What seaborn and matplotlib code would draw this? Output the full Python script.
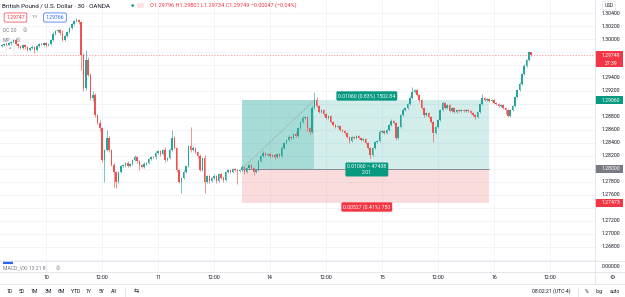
import matplotlib
matplotlib.use("Agg")
import matplotlib.pyplot as plt
from matplotlib.patches import Rectangle
from matplotlib.lines import Line2D
import seaborn as sns
import pandas as pd

# GBPUSD 30 min candles
first_open = 1.29892
closes = [
    1.29907, 1.29922, 1.29892, 1.29938, 1.29953, 1.29984, 1.29922, 1.29892, 1.29861, 1.29907,
    1.29876, 1.29830, 1.29861, 1.29876, 1.29830, 1.29892, 1.29922, 1.29915, 1.29938, 1.29907,
    1.29922, 1.29984, 1.30076, 1.30123, 1.30138, 1.30092, 1.29984, 1.30046, 1.30107, 1.30169,
    1.30230, 1.30277, 1.30292, 1.30261, 1.29753, 1.29245, 1.29676, 1.29445, 1.29091, 1.29137,
    1.28829, 1.28706, 1.28629, 1.28136, 1.28290, 1.28475, 1.28290, 1.28059, 1.27951, 1.27797,
    1.27951, 1.28044, 1.28059, 1.28090, 1.28044, 1.28074, 1.28136, 1.28182, 1.28121, 1.28059,
    1.28028, 1.28074, 1.28090, 1.28151, 1.28182, 1.28175, 1.28244, 1.28275, 1.28228, 1.28290,
    1.28136, 1.28167, 1.28290, 1.28475, 1.28321, 1.27982, 1.27797, 1.27859, 1.27951, 1.28044,
    1.28352, 1.28290, 1.28321, 1.28259, 1.28198, 1.27982, 1.28167, 1.27797, 1.27890, 1.27813,
    1.27859, 1.27890, 1.27813, 1.27920, 1.27859, 1.27828, 1.27951, 1.27982, 1.27951, 1.27997,
    1.27982, 1.27967, 1.27982, 1.28028, 1.27951, 1.28013, 1.28059, 1.28013, 1.27951, 1.27982,
    1.28121, 1.28198, 1.28244, 1.28213, 1.28228, 1.28198, 1.28213, 1.28182, 1.28228, 1.28198,
    1.28321, 1.28398, 1.28444, 1.28490, 1.28475, 1.28536, 1.28506, 1.28629, 1.28721, 1.28783,
    1.28798, 1.28629, 1.28567, 1.28937, 1.29060, 1.28968, 1.28875, 1.28906, 1.28844, 1.28783,
    1.28814, 1.28721, 1.28675, 1.28644, 1.28660, 1.28598, 1.28583, 1.28552, 1.28490, 1.28429,
    1.28490, 1.28475, 1.28506, 1.28475, 1.28444, 1.28459, 1.28398, 1.28321, 1.28213, 1.28321,
    1.28413, 1.28429, 1.28567, 1.28583, 1.28552, 1.28598, 1.28675, 1.28737, 1.28706, 1.28475,
    1.28644, 1.28829, 1.28906, 1.28937, 1.28998, 1.29091, 1.29183, 1.29214, 1.29137, 1.29060,
    1.28937, 1.28829, 1.28860, 1.28798, 1.28721, 1.28552, 1.28644, 1.28752, 1.28906, 1.29014,
    1.28937, 1.28983, 1.28891, 1.28937, 1.28875, 1.28906, 1.28891, 1.28906, 1.28891, 1.28906,
    1.28891, 1.28860, 1.28829, 1.28798, 1.28875, 1.28998, 1.29091, 1.29060, 1.29075, 1.29045,
    1.29060, 1.29014, 1.28998, 1.28968, 1.28983, 1.28937, 1.28906, 1.28814, 1.28906, 1.28968,
    1.29106, 1.29214, 1.29306, 1.29460, 1.29584, 1.29676, 1.29796, 1.29749,
]
# wick lengths in pips beyond the body
wick_up = [
    2, 1, 3, 2, 1, 2, 3, 1, 2, 2,  1, 2, 2, 3, 1, 2, 1, 2, 2, 1,
    2, 1, 3, 2, 2, 1, 4, 2, 1, 2,  2, 1, 3, 2, 1, 3, 15, 4, 3, 6,
    3, 2, 4, 2, 2, 12, 3, 2, 3, 2,  2, 1, 2, 2, 3, 1, 2, 3, 2, 1,
    2, 3, 2, 1, 2, 2, 3, 2, 1, 2,  4, 2, 3, 13, 3, 2, 1, 2, 3, 2,
    2, 29, 3, 2, 2, 3, 2, 4, 2, 1,  2, 3, 2, 2, 1, 3, 2, 2, 1, 2,
    2, 1, 2, 3, 2, 1, 2, 2, 1, 2,  2, 2, 3, 1, 2, 2, 1, 2, 2, 1,
    3, 2, 2, 3, 1, 2, 3, 2, 2, 3,  2, 1, 2, 3, 12, 4, 2, 2, 1, 2,
    2, 1, 2, 1, 2, 2, 1, 2, 2, 1,  2, 2, 1, 2, 1, 2, 2, 1, 2, 2,
    2, 1, 3, 2, 1, 2, 2, 3, 2, 1,  2, 2, 3, 2, 2, 3, 8, 2, 2, 1,
    2, 2, 1, 2, 2, 1, 2, 2, 2, 3,  2, 2, 1, 2, 1, 2, 1, 2, 2, 1,
    2, 1, 2, 1, 2, 2, 6, 2, 1, 2,  1, 2, 2, 1, 2, 1, 2, 2, 1, 2,
    2, 2, 3, 2, 3, 2, 2, 0.5,
]
wick_dn = [
    2, 2, 1, 2, 3, 2, 2, 3, 2, 1,  3, 2, 2, 1, 5, 2, 2, 1, 2, 3,
    1, 2, 2, 2, 1, 3, 2, 2, 1, 2,  2, 2, 1, 3, 23, 4, 3, 2, 3, 4,
    3, 2, 4, 3, 34, 2, 3, 2, 23, 9,  2, 2, 1, 3, 2, 2, 1, 2, 3, 8,
    2, 2, 1, 2, 2, 1, 2, 2, 3, 2,  3, 2, 2, 2, 2, 3, 2, 17, 2, 2,
    2, 3, 2, 2, 3, 2, 2, 17, 2, 3,  2, 2, 3, 2, 2, 3, 2, 2, 2, 1,
    2, 20, 2, 2, 3, 2, 2, 2, 4, 2,  2, 2, 1, 2, 2, 2, 2, 3, 2, 2,
    2, 2, 2, 1, 2, 2, 2, 2, 1, 2,  2, 4, 3, 2, 2, 2, 2, 2, 3, 2,
    2, 2, 2, 2, 2, 2, 1, 2, 2, 3,  2, 2, 2, 1, 2, 2, 2, 2, 5, 2,
    2, 2, 2, 2, 2, 2, 2, 2, 2, 3,  2, 2, 2, 2, 2, 2, 2, 2, 2, 3,
    2, 3, 2, 2, 2, 14, 2, 2, 2, 2,  2, 2, 2, 2, 2, 2, 2, 2, 2, 2,
    2, 2, 2, 3, 2, 2, 2, 2, 2, 2,  2, 2, 2, 2, 2, 2, 6, 2, 2, 2,
    2, 2, 2, 2, 2, 2, 2, 1.5,
]

price_ticks = [1.266, 1.268, 1.270, 1.272, 1.274, 1.276, 1.278, 1.280, 1.282, 1.284,
               1.286, 1.288, 1.290, 1.292, 1.294, 1.296, 1.298, 1.300, 1.302, 1.304]
time_labels = ["10", "12:00", "11", "12:00", "14", "12:00", "15", "12:00", "16", "12:00"]
time_label_idx = [19, 43, 67, 91, 115, 139, 163, 187, 211, 235]

last_price = 1.29749
countdown = "27:39"
entry_price = 1.28000
target_price = 1.29060
stop_price = 1.27473
pos_from, pos_hit, pos_to = 103, 134, 209
target_text = "0.01060 (0.83%) 1502.84"
mid_text = "0.01060 ~ 47438\n2.01"
stop_text = "0.00527 (0.41%) 750"

UP, DOWN = "#26a69a", "#ef5350"
TEAL, RED, TXT, GRID, LINE = "#089981", "#f23645", "#131722", "#f0f3fa", "#e0e3eb"
FS = 3.7

sns.set_theme(style="white")
plt.rcParams['font.family'] = ['Roboto', 'DejaVu Sans']

W, H = 625, 297
XR = 595          # right edge of the plot area, px
PANE_B = 261      # bottom of price pane, px
YLO, YHI = 1.26579, 1.30601


def fx(x):
    return x / W


def fy(y):
    return 1 - y / H


fig = plt.figure(figsize=(W / 100, H / 100), dpi=100)
fig.patch.set_facecolor("white")

ax = fig.add_axes([0, fy(PANE_B), XR / W, PANE_B / H])
ax.set_xlim(-0.73, (XR - 1.7) / 2.333)
ax.set_ylim(YLO, YHI)
ax.set_xticks([])
ax.set_yticks([])
sns.despine(ax=ax, left=True, bottom=True)
ax.set_facecolor("white")

df = pd.DataFrame({"close": closes})
df["open"] = [first_open] + closes[:-1]
body_hi = df[["open", "close"]].max(axis=1)
body_lo = df[["open", "close"]].min(axis=1)
df["high"] = body_hi + pd.Series(wick_up) * 1e-4
df["low"] = body_lo - pd.Series(wick_dn) * 1e-4
df["idx"] = range(len(df))
colors = [UP if c >= o else DOWN for o, c in zip(df["open"], df["close"])]

# grid
for p in price_ticks:
    ax.axhline(p, color=GRID, lw=0.6, zorder=0)
for i in time_label_idx:
    ax.axvline(i, color=GRID, lw=0.6, zorder=0)

# long position tool
ax.add_patch(Rectangle((pos_from, entry_price), pos_to - pos_from, target_price - entry_price,
                       fc=UP, alpha=0.2, lw=0, zorder=1))
ax.add_patch(Rectangle((pos_from, entry_price), pos_hit - pos_from, target_price - entry_price,
                       fc=UP, alpha=0.25, lw=0, zorder=1))
ax.add_patch(Rectangle((pos_from, stop_price), pos_to - pos_from, entry_price - stop_price,
                       fc=DOWN, alpha=0.2, lw=0, zorder=1))
ax.hlines(entry_price, pos_from, pos_to, color="#787b86", lw=0.6, zorder=2)
ax.plot([pos_from, pos_hit], [entry_price, target_price], ls=(0, (1.5, 1.5)),
        color="#9598a1", lw=0.5, zorder=2)

# candles
ax.vlines(df["idx"], df["low"], df["high"], colors=colors, lw=0.45, zorder=3)
ax.bar(df["idx"], (body_hi - body_lo).clip(lower=0.00004), bottom=body_lo, width=0.7,
       color=colors, lw=0, zorder=4)

# last price line
ax.axhline(last_price, color=RED, lw=0.5, ls=(0, (2, 2)), alpha=0.6, zorder=2)

box_kw = dict(boxstyle="round,pad=0.35,rounding_size=0.25", ec="none")
mid_x = (pos_from + pos_to) / 2 + 0.5
ax.text(mid_x, 1.29122, target_text, color="white", fontsize=FS, ha="center", va="center",
        bbox=dict(fc=TEAL, **box_kw), zorder=8)
ax.text(mid_x, 1.27989, mid_text, color="white", fontsize=FS, ha="center", va="center",
        linespacing=1.1, bbox=dict(fc=TEAL, **box_kw), zorder=8)
ax.text(mid_x, 1.27411, stop_text, color="white", fontsize=FS, ha="center", va="center",
        bbox=dict(fc=RED, **box_kw), zorder=8)

# right price scale
ytr = ax.get_yaxis_transform()
col_w = W - XR
lab_x = 1 + (col_w / 2 + 1) / XR
tag_h = 8 * (YHI - YLO) / PANE_B
tags = [(last_price, f"{last_price:.5f}", RED, 0.0),
        (last_price, countdown, RED, tag_h),
        (target_price, f"{target_price:.5f}", TEAL, 0.0),
        (entry_price, f"{entry_price:.5f}", "#787b86", 0.0),
        (stop_price, f"{stop_price:.5f}", RED, 0.0)]
for p in price_ticks:
    covered = any(abs(p - (tp - off)) < tag_h * 0.9 for tp, _, _, off in tags)
    if covered or p < YLO + 0.0003:
        continue
    ax.text(lab_x, p, f"{p:.5f}", transform=ytr, fontsize=FS, color=TXT,
            ha="center", va="center", clip_on=False)

for tp, text, fc, off in tags:
    ax.add_patch(Rectangle((1.0, tp - tag_h / 2 - off), (col_w - 2) / XR, tag_h, transform=ytr,
                           fc=fc, ec="none", clip_on=False, zorder=9))
    ax.text(lab_x, tp - off, text, transform=ytr, fontsize=FS, color="white",
            ha="center", va="center", clip_on=False, zorder=10)

# MACD pane
ax2 = fig.add_axes([0, fy(272), XR / W, 11 / H])
ax2.set_xlim(ax.get_xlim())
ax2.set_xticks([])
ax2.set_yticks([])
sns.despine(ax=ax2, left=True, bottom=True)
for i in time_label_idx:
    ax2.axvline(i, color=GRID, lw=0.6, zorder=0)
fig.text(fx(3), fy(267.5), "MACD_VXI 13 21 8", fontsize=FS, color="#787b86", va="center")
fig.text(fx(56), fy(267.5), "◎", fontsize=FS, color="#787b86", va="center")
fig.add_artist(Rectangle((fx(3), fy(263.5)), 10 / W, 3 / H, transform=fig.transFigure,
                         fc="#2962ff", ec="none"))
fig.text(fx(XR + col_w / 2 + 1), fy(267), "0.00000", fontsize=FS, color=TXT,
         ha="center", va="center")

# separators
for y in (PANE_B, 272, 283.5):
    fig.add_artist(Line2D([0, 1], [fy(y), fy(y)], color=LINE, lw=0.6, transform=fig.transFigure))
fig.add_artist(Line2D([fx(XR), fx(XR)], [fy(283.5), 1], color=LINE, lw=0.6,
                      transform=fig.transFigure))

# time axis
xtr = ax.get_xaxis_transform()
for lab, i in zip(time_labels, time_label_idx):
    ax.text(i, -(277.8 - PANE_B) / PANE_B, lab, transform=xtr, fontsize=FS, color=TXT,
            ha="center", va="center", clip_on=False)
fig.text(fx(612), fy(277.8), "⚙", fontsize=4.5, color=TXT, ha="center", va="center")

# legend / header
fig.text(fx(2), fy(5.5), "British Pound / U.S. Dollar · 30 · OANDA", fontsize=4.5, color=TXT,
         va="center")
fig.text(fx(132), fy(5.5), "●", fontsize=2.8, color=UP, va="center", ha="center")
fig.add_artist(Rectangle((fx(137), fy(8)), 7 / W, 5 / H, transform=fig.transFigure,
                         fc="#fce4e6", ec="none"))
fig.text(fx(150), fy(5.5), "O1.29796 H1.29801 L1.29734 C1.29749 −0.00047 (−0.04%)",
         fontsize=4.0, color=RED, va="center")
fig.text(fx(15.5), fy(17.5), "1.29747", fontsize=FS, color=RED, ha="center", va="center",
         bbox=dict(boxstyle="round,pad=0.4,rounding_size=0.3", fc="white", ec=RED, lw=0.5))
fig.text(fx(35), fy(17.5), "1.9", fontsize=3.2, color="#787b86", ha="center", va="center")
fig.text(fx(55), fy(17.5), "1.29766", fontsize=FS, color="#2962ff", ha="center", va="center",
         bbox=dict(boxstyle="round,pad=0.4,rounding_size=0.3", fc="white", ec="#2962ff", lw=0.5))
fig.text(fx(3), fy(30), "DC 20", fontsize=FS, color="#787b86", va="center")
fig.text(fx(23), fy(30), "◎", fontsize=FS, color="#787b86", va="center")
fig.text(fx(3), fy(40), "MP", fontsize=FS, color="#787b86", va="center")
fig.text(fx(16), fy(40), "◎", fontsize=FS, color="#787b86", va="center")
fig.text(fx(10), fy(50.5), "˄", fontsize=FS, color=TXT, ha="center", va="center",
         bbox=dict(boxstyle="round,pad=0.5,rounding_size=0.3", fc="white", ec=LINE, lw=0.5))
fig.text(fx(609), fy(5.5), "USD", fontsize=3.4, color=TXT, ha="center", va="center",
         bbox=dict(boxstyle="round,pad=0.4,rounding_size=0.3", fc="white", ec=LINE, lw=0.5))

# bottom toolbar
ranges = ["1D", "5D", "1M", "3M", "6M", "YTD", "1Y", "5Y", "All"]
range_x = [10, 22, 34, 48, 61, 76, 89, 102, 114]
for lab, x in zip(ranges, range_x):
    fig.text(fx(x), fy(291.5), lab, fontsize=FS, color=TXT, ha="center", va="center")
fig.add_artist(Line2D([fx(125), fx(125)], [fy(287), fy(296)], color=LINE, lw=0.6,
                      transform=fig.transFigure))
fig.text(fx(136), fy(291.5), "⇆", fontsize=4.5, color=TXT, ha="center", va="center")
fig.text(fx(551), fy(291.5), "08:02:21 (UTC-4)", fontsize=FS, color=TXT, ha="center", va="center")
fig.add_artist(Line2D([fx(578), fx(578)], [fy(287), fy(296)], color=LINE, lw=0.6,
                      transform=fig.transFigure))
fig.text(fx(587), fy(291.5), "%", fontsize=FS, color=TXT, ha="center", va="center")
fig.text(fx(599), fy(291.5), "log", fontsize=FS, color=TXT, ha="center", va="center")
fig.text(fx(615), fy(291.5), "auto", fontsize=FS, color=TXT, ha="center", va="center")

fig.savefig("out.png", dpi=100, facecolor="white")
